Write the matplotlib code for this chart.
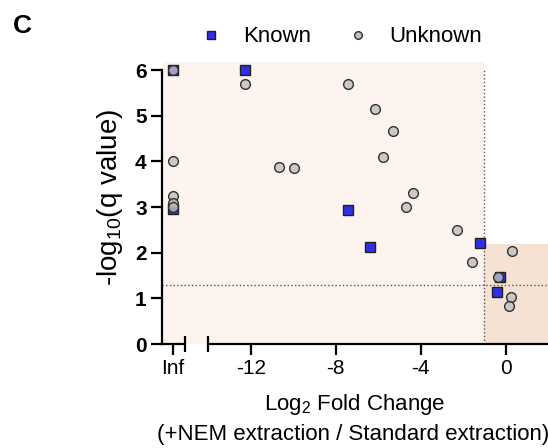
import numpy as np
import matplotlib
matplotlib.use('Agg')
import matplotlib.pyplot as plt
from matplotlib.lines import Line2D

plt.rcParams['font.family'] = ['Liberation Sans', 'DejaVu Sans']
plt.rcParams['mathtext.fontset'] = 'custom'
plt.rcParams['mathtext.rm'] = 'Liberation Sans'

INF = np.inf

# Known proteins: log2 fold change, -log10(q)
known_x = [INF, INF, -12.28, -7.42, -6.40, -1.21, -0.28, -0.38]
known_y = [6.00, 2.95, 6.00, 2.93, 2.12, 2.22, 1.47, 1.13]

# Unknown proteins
unknown_x = [INF, INF, INF, INF, INF, -12.28, -10.70, -9.98, -7.42, -6.15,
             -5.32, -5.76, -4.34, -4.71, -2.29, -1.57, 0.30, -0.36, 0.27, 0.14]
unknown_y = [6.00, 4.02, 3.24, 3.08, 3.00, 5.69, 3.88, 3.85, 5.70, 5.15,
             4.66, 4.10, 3.30, 3.01, 2.50, 1.79, 2.04, 1.47, 1.03, 0.83]

xticks = [INF, -12, -8, -4, 0]
xtick_labels = ['Inf', '-12', '-8', '-4', '0']
yticks = [0, 1, 2, 3, 4, 5, 6]

q_cut = 1.3      # -log10(0.05)
fc_cut = -1
up_top = 2.2

inf_pos = -15.67   # where the "Inf" column sits on the broken axis
x_left, x_right = -16.19, 2


def xpos(vals):
    return [inf_pos if np.isinf(v) else v for v in vals]


fig = plt.figure(figsize=(5.48, 4.48), dpi=100)
ax = fig.add_axes([162 / 548, 1 - 344 / 448, (548 - 162) / 548, (344 - 62) / 448])
ax.set_xlim(x_left, x_right)
ax.set_ylim(0, 6.18)

# shaded regions
ax.axvspan(x_left, fc_cut, color='#fdf4f0', lw=0, zorder=0)
ax.fill_between([fc_cut, x_right], 0, up_top, color='#f5e2d5', lw=0, zorder=0)
ax.axhline(q_cut, color='#555555', ls=':', lw=1, zorder=1)
ax.vlines(fc_cut, 0, 6, color='#555555', ls=':', lw=1, zorder=1)

ax.plot(xpos(known_x), known_y, ls='none', marker='s', ms=6.5,
        mfc='#2f2fe6', mec='#202020', mew=1, zorder=3, clip_on=False)
ax.plot(xpos(unknown_x), unknown_y, ls='none', marker='o', ms=7,
        mfc=(0.75, 0.75, 0.75, 0.8), mec='#303030', mew=1, zorder=4, clip_on=False)

# axes styling
for s in ['top', 'right']:
    ax.spines[s].set_visible(False)
ax.spines['left'].set_linewidth(1.6)
ax.spines['bottom'].set_linewidth(1.6)
ax.spines['left'].set_bounds(0, 6)
ax.spines['bottom'].set_bounds(-14, x_right)

# broken x axis: small Inf segment + end caps
ax.plot([x_left, -15.1], [0, 0], color='k', lw=1.6, clip_on=False, zorder=5)
ax.plot([-15.1, -14], [0, 0], ls='none', marker='|', ms=11, mew=1.6,
        color='k', clip_on=False, zorder=5)

ax.set_xticks(xpos(xticks))
ax.set_xticklabels(xtick_labels, fontsize=15)
ax.set_yticks(yticks)
ax.set_yticklabels([str(t) for t in yticks], fontsize=15, fontweight='bold')
ax.tick_params(axis='both', direction='out', length=8, width=1.6, pad=3)

fig.text(110 / 548, 1 - 197 / 448, r'-log$_{\mathregular{10}}$(q value)',
         rotation=90, ha='center', va='center', fontsize=20)
fig.text(355 / 548, 1 - 404 / 448, r'Log$_{\mathregular{2}}$ Fold Change',
         ha='center', va='center', fontsize=16)
fig.text(353 / 548, 1 - 434 / 448, '(+NEM extraction / Standard extraction)',
         ha='center', va='center', fontsize=16)
fig.text(13 / 548, 1 - 26 / 448, 'C', fontsize=19, fontweight='bold',
         ha='left', va='center')

handles = [
    Line2D([], [], ls='none', marker='s', ms=5.8, mfc='#2f2fe6', mec='#202020', mew=1),
    Line2D([], [], ls='none', marker='o', ms=5.5, mfc='#c0c0c0', mec='#303030', mew=1),
]
fig.legend(handles, ['Known', 'Unknown'], loc='center', ncol=2,
           bbox_to_anchor=(341 / 548, 1 - 37 / 448), frameon=False, fontsize=16,
           handlelength=1.0, handletextpad=0.95, columnspacing=1.6)

fig.savefig('out.png', dpi=100)
